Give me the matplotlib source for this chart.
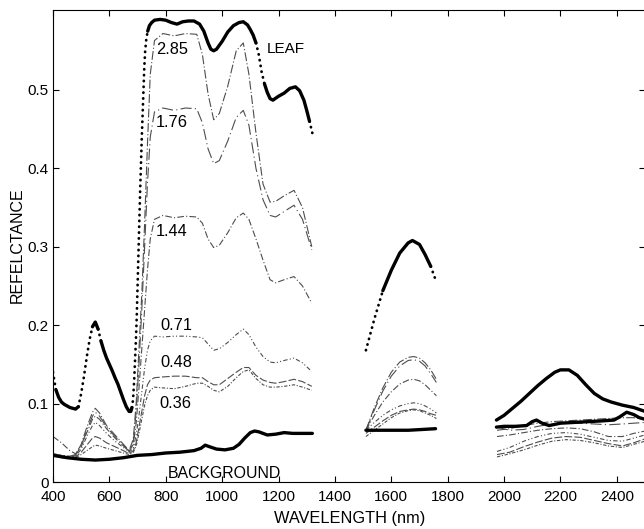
import numpy as np
import matplotlib
matplotlib.use("Agg")
import matplotlib.pyplot as plt

plt.rcParams['font.family'] = ['Liberation Sans', 'DejaVu Sans']

# canopy curves, 400-1320 nm band
wl_a = [400, 430, 460, 480, 500, 520, 540, 550, 565, 590, 620, 650, 670, 685, 695,
        705, 715, 725, 735, 745, 760, 790, 830, 870, 910, 930, 950, 970, 990, 1020,
        1050, 1075, 1095, 1120, 1145, 1170, 1190, 1220, 1255, 1285, 1318]
lai_285_a = [0.036, 0.034, 0.033, 0.035, 0.048, 0.070, 0.089, 0.094, 0.088, 0.072, 0.060,
             0.048, 0.040, 0.055, 0.10, 0.17, 0.24, 0.33, 0.43, 0.52, 0.563, 0.572, 0.569,
             0.572, 0.571, 0.545, 0.495, 0.462, 0.47, 0.505, 0.55, 0.56, 0.52, 0.445, 0.38,
             0.357, 0.358, 0.365, 0.372, 0.35, 0.30]
lai_176_a = [0.035, 0.033, 0.032, 0.034, 0.046, 0.066, 0.084, 0.089, 0.084, 0.070, 0.058,
             0.047, 0.039, 0.052, 0.09, 0.15, 0.22, 0.30, 0.38, 0.44, 0.472, 0.477, 0.474,
             0.477, 0.476, 0.458, 0.425, 0.406, 0.41, 0.435, 0.465, 0.474, 0.455, 0.40, 0.36,
             0.34, 0.338, 0.345, 0.353, 0.335, 0.296]
lai_144_a = [0.058, 0.050, 0.040, 0.036, 0.045, 0.063, 0.080, 0.084, 0.080, 0.068, 0.056,
             0.046, 0.039, 0.048, 0.075, 0.12, 0.17, 0.22, 0.27, 0.31, 0.335, 0.340, 0.337,
             0.339, 0.338, 0.33, 0.31, 0.299, 0.302, 0.318, 0.337, 0.343, 0.335, 0.31, 0.283,
             0.258, 0.254, 0.258, 0.262, 0.25, 0.228]
lai_071_a = [0.036, 0.034, 0.032, 0.033, 0.042, 0.058, 0.072, 0.076, 0.072, 0.062, 0.052,
             0.044, 0.038, 0.043, 0.06, 0.085, 0.115, 0.145, 0.168, 0.18, 0.186, 0.185, 0.186,
             0.186, 0.185, 0.184, 0.176, 0.168, 0.17, 0.178, 0.188, 0.195, 0.188, 0.172, 0.16,
             0.153, 0.152, 0.155, 0.158, 0.152, 0.141]
lai_048_a = [0.034, 0.032, 0.031, 0.032, 0.038, 0.047, 0.056, 0.058, 0.056, 0.050, 0.045,
             0.040, 0.036, 0.040, 0.05, 0.07, 0.09, 0.11, 0.124, 0.13, 0.133, 0.134, 0.135,
             0.135, 0.133, 0.133, 0.128, 0.124, 0.124, 0.132, 0.14, 0.146, 0.146, 0.136, 0.13,
             0.127, 0.126, 0.128, 0.131, 0.128, 0.122]
lai_036_a = [0.033, 0.031, 0.030, 0.031, 0.035, 0.040, 0.045, 0.047, 0.046, 0.043, 0.040,
             0.037, 0.035, 0.038, 0.046, 0.062, 0.08, 0.098, 0.11, 0.117, 0.121, 0.12, 0.119,
             0.122, 0.126, 0.126, 0.122, 0.117, 0.115, 0.122, 0.133, 0.141, 0.143, 0.132, 0.124,
             0.121, 0.121, 0.122, 0.124, 0.121, 0.117]

# canopy curves, 1510-1760 nm band
wl_b = [1510, 1540, 1570, 1600, 1630, 1660, 1680, 1700, 1720, 1740, 1760]
lai_285_b = [0.066, 0.095, 0.12, 0.14, 0.153, 0.159, 0.160, 0.158, 0.152, 0.143, 0.131]
lai_176_b = [0.066, 0.092, 0.116, 0.135, 0.148, 0.155, 0.156, 0.154, 0.148, 0.138, 0.127]
lai_144_b = [0.066, 0.085, 0.102, 0.115, 0.125, 0.130, 0.131, 0.129, 0.124, 0.117, 0.110]
lai_071_b = [0.066, 0.076, 0.085, 0.092, 0.097, 0.100, 0.101, 0.100, 0.097, 0.093, 0.088]
lai_048_b = [0.062, 0.070, 0.078, 0.085, 0.090, 0.092, 0.093, 0.092, 0.090, 0.087, 0.085]
lai_036_b = [0.058, 0.066, 0.074, 0.082, 0.088, 0.091, 0.092, 0.091, 0.088, 0.085, 0.081]

# canopy curves, 1975-2500 nm band
wl_c = [1975, 2020, 2070, 2120, 2170, 2220, 2270, 2320, 2370, 2420, 2460, 2500]
lai_285_c = [0.066, 0.068, 0.072, 0.075, 0.077, 0.078, 0.079, 0.080, 0.081, 0.082, 0.082, 0.080]
lai_176_c = [0.070, 0.066, 0.067, 0.071, 0.074, 0.075, 0.075, 0.074, 0.073, 0.074, 0.075, 0.076]
lai_144_c = [0.058, 0.060, 0.063, 0.066, 0.068, 0.069, 0.068, 0.064, 0.058, 0.058, 0.062, 0.065]
lai_071_c = [0.039, 0.044, 0.052, 0.058, 0.062, 0.063, 0.061, 0.057, 0.053, 0.052, 0.056, 0.060]
lai_048_c = [0.035, 0.038, 0.045, 0.051, 0.056, 0.058, 0.057, 0.053, 0.049, 0.046, 0.050, 0.055]
lai_036_c = [0.032, 0.036, 0.041, 0.047, 0.052, 0.054, 0.053, 0.050, 0.046, 0.044, 0.048, 0.052]

# leaf spectrum
leaf_wl_a = [400, 410, 420, 430, 440, 450, 460, 470, 480, 490, 500, 510, 520, 530, 540,
             550, 560, 570, 580, 590, 600, 610, 620, 630, 640, 650, 660, 670, 676, 680,
             684, 688, 691, 694, 697, 700, 703, 706, 709, 712, 715, 718, 721, 724, 727,
             731, 736, 742, 750, 760, 780, 800, 820, 840, 860, 880, 900, 920, 935, 950,
             960, 970, 980, 1000, 1020, 1040, 1060, 1075, 1090, 1100, 1110, 1120, 1130,
             1140, 1150, 1160, 1170, 1180, 1200, 1220, 1240, 1260, 1275, 1290, 1300, 1310, 1320]
leaf_a = [0.14, 0.118, 0.108, 0.102, 0.099, 0.097, 0.095, 0.094, 0.093, 0.096, 0.113, 0.135,
          0.160, 0.182, 0.198, 0.204, 0.195, 0.180, 0.168, 0.158, 0.150, 0.142, 0.133, 0.125,
          0.115, 0.105, 0.096, 0.090, 0.090, 0.095, 0.105, 0.13, 0.155, 0.18, 0.21, 0.25,
          0.29, 0.33, 0.37, 0.405, 0.44, 0.47, 0.50, 0.53, 0.55, 0.565, 0.575, 0.582, 0.586,
          0.589, 0.590, 0.589, 0.586, 0.584, 0.587, 0.588, 0.588, 0.584, 0.575, 0.56, 0.552,
          0.550, 0.552, 0.562, 0.574, 0.582, 0.586, 0.587, 0.583, 0.577, 0.57, 0.56, 0.545,
          0.523, 0.508, 0.497, 0.489, 0.487, 0.492, 0.496, 0.502, 0.504, 0.499, 0.487, 0.474,
          0.46, 0.445]
leaf_wl_b = [1510, 1540, 1570, 1600, 1630, 1660, 1675, 1700, 1720, 1740, 1757]
leaf_b = [0.168, 0.208, 0.244, 0.27, 0.292, 0.305, 0.308, 0.303, 0.29, 0.275, 0.258]
leaf_wl_c = [1973, 2000, 2030, 2060, 2090, 2120, 2150, 2180, 2200, 2230, 2260, 2290,
             2320, 2350, 2380, 2420, 2460, 2500]
leaf_c = [0.079, 0.085, 0.094, 0.103, 0.113, 0.123, 0.132, 0.140, 0.143, 0.143, 0.136,
          0.124, 0.113, 0.106, 0.102, 0.098, 0.095, 0.090]

# background (soil) spectrum
bg_wl_a = [400, 450, 500, 550, 600, 650, 700, 750, 800, 850, 900, 925, 940, 955, 980,
           1010, 1040, 1060, 1080, 1100, 1115, 1130, 1160, 1190, 1220, 1250, 1280, 1320]
bg_a = [0.034, 0.031, 0.029, 0.028, 0.029, 0.031, 0.034, 0.035, 0.037, 0.038, 0.040, 0.043,
        0.047, 0.045, 0.042, 0.041, 0.043, 0.048, 0.056, 0.063, 0.065, 0.064, 0.060, 0.061,
        0.063, 0.062, 0.062, 0.062]
bg_wl_b = [1510, 1560, 1610, 1660, 1710, 1757]
bg_b = [0.066, 0.066, 0.066, 0.066, 0.067, 0.068]
bg_wl_c = [1973, 2000, 2040, 2080, 2100, 2115, 2135, 2160, 2200, 2250, 2300, 2350, 2390,
           2410, 2435, 2460, 2480, 2500]
bg_c = [0.070, 0.071, 0.071, 0.072, 0.077, 0.079, 0.075, 0.072, 0.075, 0.076, 0.077, 0.078,
        0.079, 0.083, 0.089, 0.086, 0.082, 0.080]

lai_labels = ['2.85', '1.76', '1.44', '0.71', '0.48', '0.36']
lai_a = [lai_285_a, lai_176_a, lai_144_a, lai_071_a, lai_048_a, lai_036_a]
lai_b = [lai_285_b, lai_176_b, lai_144_b, lai_071_b, lai_048_b, lai_036_b]
lai_c = [lai_285_c, lai_176_c, lai_144_c, lai_071_c, lai_048_c, lai_036_c]
label_pos = [(766, 0.552), (766, 0.459), (766, 0.320), (781, 0.199), (781, 0.152), (779, 0.100)]
dashes = [(0, (8, 2, 1, 2)), (0, (10, 3, 1, 3)), (0, (6, 2, 1, 2)),
          (0, (4, 2, 1, 2, 1, 2)), (0, (7, 2)), (0, (3, 1.5, 1, 1.5))]


def leaf_line(ax, wl, val, thr=0.0015):
    # solid where the spectrum is flat, dotted where it climbs fast
    wl = np.asarray(wl, float)
    val = np.asarray(val, float)
    steep = np.abs(np.diff(val) / np.diff(wl)) > thr
    start = 0
    for i in range(1, len(steep) + 1):
        if i == len(steep) or steep[i] != steep[start]:
            seg = slice(start, i + 1)
            if steep[start]:
                ax.plot(wl[seg], val[seg], color='black', lw=2.0, ls=(0, (0.1, 2.0)),
                        dash_capstyle='round')
            else:
                ax.plot(wl[seg], val[seg], color='black', lw=2.4, solid_capstyle='round')
            start = i


fig = plt.figure(figsize=(6.44, 5.29), dpi=100)
ax = fig.add_axes([53 / 644, 47 / 529, 592 / 644, 472 / 529])

for k in range(6):
    for wl, vals in ((wl_a, lai_a), (wl_b, lai_b), (wl_c, lai_c)):
        ax.plot(wl, vals[k], color='0.3', lw=0.8, ls=dashes[k])
    ax.text(label_pos[k][0], label_pos[k][1], lai_labels[k], fontsize=11.8,
            ha='left', va='center')

leaf_line(ax, leaf_wl_a, leaf_a)
leaf_line(ax, leaf_wl_b, leaf_b, thr=0.001)
leaf_line(ax, leaf_wl_c, leaf_c)
for wl, v in ((bg_wl_a, bg_a), (bg_wl_b, bg_b), (bg_wl_c, bg_c)):
    ax.plot(wl, v, color='black', lw=2.4, solid_capstyle='round')

ax.text(1158, 0.552, 'LEAF', fontsize=11, ha='left', va='center')
ax.text(808, 0.011, 'BACKGROUND', fontsize=11.4, ha='left', va='center')

ax.set_xlim(400, 2500)
ax.set_ylim(0, 0.602)
ax.set_xticks(np.arange(400, 2500, 200))
ax.set_yticks([0, 0.1, 0.2, 0.3, 0.4, 0.5])
ax.set_yticklabels(['0', '0.1', '0.2', '0.3', '0.4', '0.5'])
ax.tick_params(direction='in', length=4, width=0.8, top=True, right=True, labelsize=11)
ax.tick_params(axis='x', pad=6)
ax.tick_params(axis='y', pad=3)
for s in ax.spines.values():
    s.set_linewidth(0.8)

fig.text(350 / 644, 1 - 518 / 529, 'WAVELENGTH (nm)', fontsize=11.8, ha='center', va='center')
fig.text(17 / 644, 1 - 245 / 529, 'REFELCTANCE', fontsize=11.5, rotation=90,
         ha='center', va='center')

fig.savefig('out.png', dpi=100)
